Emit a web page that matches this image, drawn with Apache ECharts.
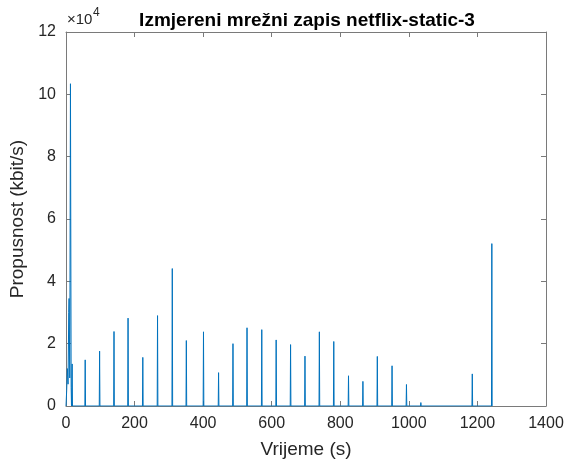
<!DOCTYPE html>
<html>
<head>
<meta charset="utf-8">
<script src="https://cdn.jsdelivr.net/npm/echarts@6/dist/echarts.min.js"></script>
<style>
html, body { margin: 0; padding: 0; background: #ffffff; }
#chart { width: 577px; height: 468px; }
</style>
</head>
<body>
<div id="chart"></div>
<script>
// Measured throughput bursts: sample time (s) and rate (kbit/s)
const burstTimes = [2, 4, 6, 8, 9, 11, 13, 15, 18,
  56, 98, 140, 181, 224, 267, 310, 351, 401, 445, 487, 528, 571, 613,
  655, 697, 739, 781, 824, 866, 908, 951, 993, 1035, 1185, 1242];
const burstRates = [5000, 12000, 7000, 30000, 34500, 9000, 103400, 6000, 13500,
  14800, 17600, 23900, 28200, 15600, 29000, 44100, 21000, 23800, 10700, 20000, 25100, 24500, 21200,
  19700, 16000, 23800, 20700, 9700, 7900, 15900, 12900, 6900, 1100, 10300, 52100];

// Axis ranges and tick steps
const xRange = [0, 1400];
const xStep = 200;
const yRange = [0, 120000];
const yStep = 20000;
const yScale = 1e4;

// Link time series: rate drops to zero between bursts
function buildSeries(ts, vs) {
  const out = [[0, 0]];
  for (let i = 0; i < ts.length; i++) {
    const t = ts[i];
    const prev = i > 0 ? ts[i - 1] : 0;
    const next = i < ts.length - 1 ? ts[i + 1] : Infinity;
    if (t - prev > 2) out.push([t - 1, 0]);
    out.push([t, vs[i]]);
    if (next - t > 2) out.push([t + 1, 0]);
  }
  return out;
}

const FONT = '"Liberation Sans", Arial, Helvetica, sans-serif';
const TXT = '#262626';
const AX = '#7a7a7a';

const chart = echarts.init(document.getElementById('chart'), null, { renderer: 'canvas' });

const gridBox = { left: 66, right: 31, top: 32, bottom: 62 };

function xAx(pos, showLabels) {
  return {
    type: 'value', position: pos, min: xRange[0], max: xRange[1], interval: xStep,
    axisLine: { show: true, onZero: false, lineStyle: { color: AX, width: 1 } },
    axisTick: { show: true, inside: true, length: 5, lineStyle: { color: AX } },
    axisLabel: { show: showLabels, color: TXT, fontSize: 16, fontFamily: FONT, margin: 10,
      formatter: v => String(v) },
    splitLine: { show: false },
    name: showLabels ? 'Vrijeme (s)' : '',
    nameLocation: 'middle', nameGap: 34,
    nameTextStyle: { color: TXT, fontSize: 19, fontFamily: FONT }
  };
}
function yAx(pos, showLabels) {
  return {
    type: 'value', position: pos, min: yRange[0], max: yRange[1], interval: yStep,
    axisLine: { show: true, onZero: false, lineStyle: { color: AX, width: 1 } },
    axisTick: { show: true, inside: true, length: 5, lineStyle: { color: AX } },
    axisLabel: { show: showLabels, color: TXT, fontSize: 16, fontFamily: FONT, margin: 10,
      formatter: v => String(v / yScale) },
    splitLine: { show: false },
    name: showLabels ? 'Propusnost (kbit/s)' : '',
    nameLocation: 'middle', nameGap: 31,
    nameTextStyle: { color: TXT, fontSize: 19, fontFamily: FONT }
  };
}

chart.setOption({
  animation: false,
  backgroundColor: '#ffffff',
  grid: gridBox,
  xAxis: [xAx('bottom', true), xAx('top', false)],
  yAxis: [yAx('left', true), yAx('right', false)],
  series: [{
    type: 'line',
    data: buildSeries(burstTimes, burstRates),
    showSymbol: false,
    lineStyle: { color: '#0072BD', width: 1 },
    itemStyle: { color: '#0072BD' },
    z: 1
  }],
  graphic: [
    {
      type: 'text',
      style: {
        x: 307, y: 21,
        text: 'Izmjereni mrežni zapis netflix-static-3',
        fill: '#000000', font: 'bold 19px ' + FONT,
        textAlign: 'center', textVerticalAlign: 'middle'
      }
    },
    {
      type: 'text',
      style: {
        x: 67, y: 20,
        text: '×10',
        fill: TXT, font: '15px ' + FONT,
        textVerticalAlign: 'middle'
      }
    },
    {
      type: 'text',
      style: {
        x: 93, y: 13,
        text: '4',
        fill: TXT, font: '12px ' + FONT,
        textVerticalAlign: 'middle'
      }
    }
  ]
});
</script>
</body>
</html>
